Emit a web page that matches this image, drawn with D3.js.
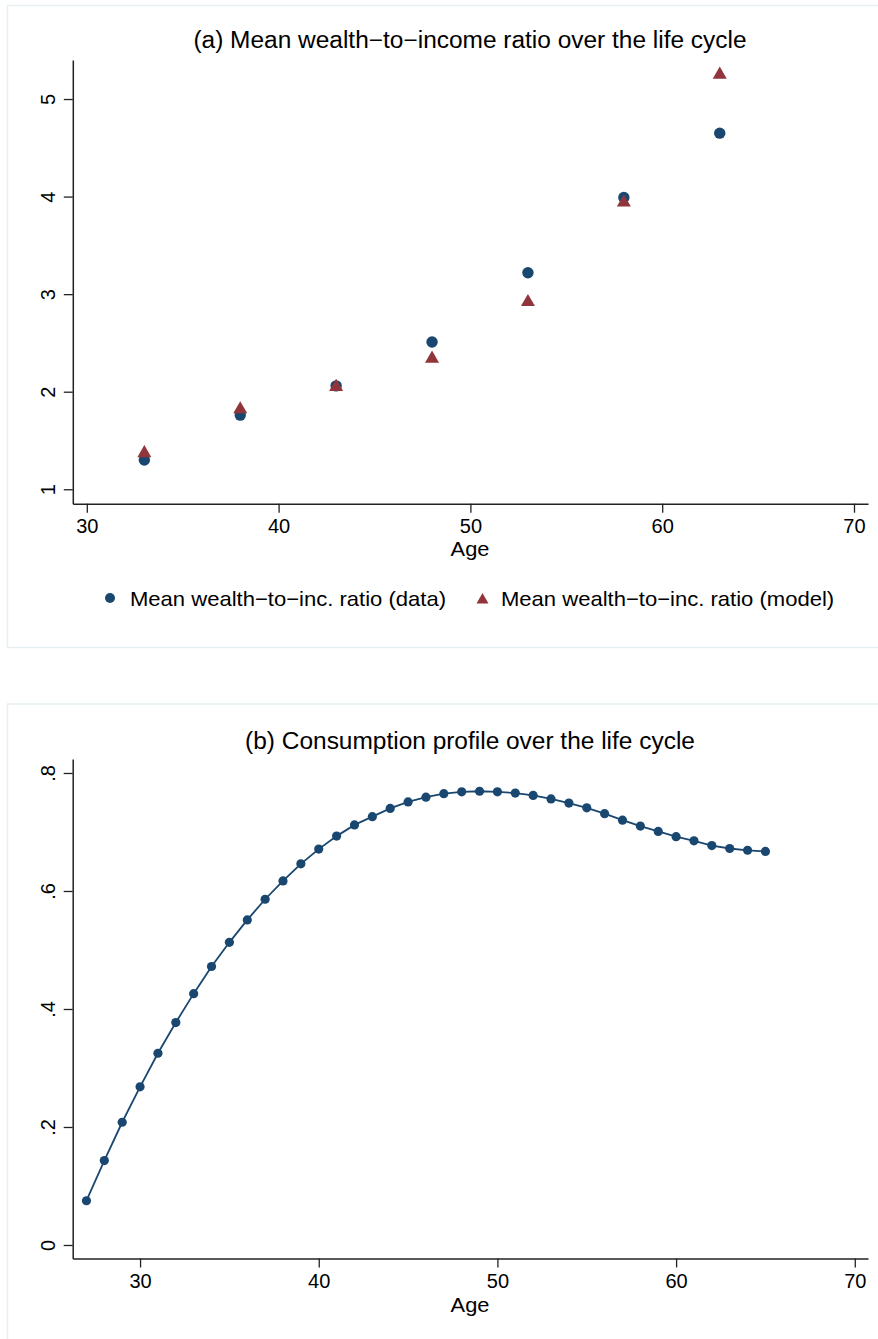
<!DOCTYPE html>
<html>
<head>
<meta charset="utf-8">
<script src="https://cdn.jsdelivr.net/npm/d3@7"></script>
<style>
  html, body { margin: 0; padding: 0; background: #fff; }
  svg { display: block; font-family: 'Liberation Sans', Arial, Helvetica, sans-serif; }
</style>
</head>
<body>
<svg id="chart" width="878" height="1339"></svg>
<script>
// panel (a) values
const wealthAges = [33, 38, 43, 48, 53, 58, 63]
const wealthData = [1.30, 1.76, 2.06, 2.51, 3.22, 3.99, 4.65]
const wealthModel = [1.39, 1.84, 2.07, 2.36, 2.94, 3.96, 5.27]
const wealthTicksX = [30, 40, 50, 60, 70]
const wealthTicksY = [1, 2, 3, 4, 5]
const legendLabels = ['Mean wealth\u2212to\u2212inc. ratio (data)', 'Mean wealth\u2212to\u2212inc. ratio (model)']

// panel (b) values
const consAges = [27, 28, 29, 30, 31, 32, 33, 34, 35, 36, 37, 38, 39, 40, 41, 42, 43, 44, 45, 46,
  47, 48, 49, 50, 51, 52, 53, 54, 55, 56, 57, 58, 59, 60, 61, 62, 63, 64, 65]
const consValues = [0.075, 0.143, 0.208, 0.268, 0.325, 0.377, 0.426, 0.472, 0.513, 0.551,
  0.586, 0.617, 0.646, 0.671, 0.693, 0.712, 0.726, 0.740, 0.751, 0.759,
  0.765, 0.768, 0.769, 0.768, 0.766, 0.762, 0.756, 0.749, 0.741, 0.731,
  0.720, 0.710, 0.701, 0.692, 0.685, 0.677, 0.672, 0.669, 0.667]
const consTicksX = [30, 40, 50, 60, 70]
const consTicksY = [0, 0.2, 0.4, 0.6, 0.8]

const navy = '#1a476f'
const maroon = '#90353b'
const axisColor = '#222'
const SX = 1.05      // text in the reference is drawn a touch wide

const svg = d3.select('#chart')

function stretchedText(g, x, y, str, size, anchor) {
  return g.append('text')
    .attr('transform', `translate(${x},${y}) scale(${SX},1)`)
    .attr('text-anchor', anchor || 'middle')
    .style('font-size', size + 'px')
    .style('fill', '#000')
    .text(str)
}

function panelFrame(y0, y1) {
  svg.append('rect')
    .attr('x', 7.5).attr('y', y0)
    .attr('width', 900).attr('height', y1 - y0)
    .style('fill', '#fff')
    .style('stroke', '#e6eff1')
    .style('stroke-width', 1.5)
}

function drawAxes(g, x, y, xTicks, yTicks, yFmt) {
  const [yBottom] = y.range()
  const [xLeft] = x.range()

  const xAxis = g.append('g')
    .attr('transform', `translate(0,${yBottom})`)
    .call(d3.axisBottom(x).tickValues(xTicks).tickSize(9).tickSizeOuter(0).tickFormat(d3.format('d')))
  xAxis.selectAll('text')
    .attr('y', 29).attr('dy', 0)

  const yAxis = g.append('g')
    .attr('transform', `translate(${xLeft},0)`)
    .call(d3.axisLeft(y).tickValues(yTicks).tickSize(9).tickSizeOuter(0).tickFormat(yFmt))
  yAxis.selectAll('text')
    .attr('x', 0).attr('y', 0).attr('dy', '0.36em')
    .attr('text-anchor', 'middle')
    .attr('transform', 'translate(-25,0) rotate(-90)')

  g.selectAll('.domain').style('stroke', axisColor).style('stroke-width', 1.5)
  g.selectAll('.tick line').style('stroke', axisColor).style('stroke-width', 1.3)
  g.selectAll('.tick text')
    .style('font-size', '20px')
    .style('font-family', "'Liberation Sans', Arial, sans-serif")
    .style('fill', '#000')
}

// ---------- panel (a) ----------
panelFrame(5.5, 647.5)
const gA = svg.append('g')
const xA = d3.scaleLinear().domain([29.27, 70.73]).range([72.8, 868])
const yA = d3.scaleLinear().domain([0.852, 5.40]).range([503.7, 60])

drawAxes(gA, xA, yA, wealthTicksX, wealthTicksY, d3.format('d'))
stretchedText(gA, 470, 48, '(a) Mean wealth\u2212to\u2212income ratio over the life cycle', 23.3)
stretchedText(gA, 470, 556, 'Age', 20.8)

const tri = d3.symbol(d3.symbolTriangle, 85)
const triSmall = d3.symbol(d3.symbolTriangle, 62)

gA.append('g').selectAll('circle')
  .data(wealthAges)
  .join('circle')
  .attr('cx', d => xA(d))
  .attr('cy', (d, i) => yA(wealthData[i]))
  .attr('r', 5.7)
  .style('fill', navy)

gA.append('g').selectAll('path')
  .data(wealthAges)
  .join('path')
  .attr('d', tri)
  .attr('transform', (d, i) => `translate(${xA(d)},${yA(wealthModel[i]) + 2})`)
  .style('fill', maroon)

// legend
const legend = gA.append('g')
legend.append('circle').attr('cx', 110).attr('cy', 598).attr('r', 5).style('fill', navy)
stretchedText(legend, 130, 605.5, legendLabels[0], 21, 'start')
legend.append('path').attr('d', triSmall)
  .attr('transform', 'translate(482.5,600)')
  .style('fill', maroon)
stretchedText(legend, 501, 605.5, legendLabels[1], 21, 'start')

// ---------- panel (b) ----------
panelFrame(704, 1350)
const gB = svg.append('g')
const xB = d3.scaleLinear().domain([26.23, 70.74]).range([72.7, 868])
const yB = d3.scaleLinear().domain([-0.0229, 0.8237]).range([1258.5, 759])

const fmtDec = v => v === 0 ? '0' : d3.format('.1f')(v).replace(/^0/, '')
drawAxes(gB, xB, yB, consTicksX, consTicksY, fmtDec)
stretchedText(gB, 470, 748.5, '(b) Consumption profile over the life cycle', 23.3)
stretchedText(gB, 470, 1312, 'Age', 20.8)

const line = d3.line()
  .x((d, i) => xB(consAges[i]))
  .y(d => yB(d))

gB.append('path')
  .datum(consValues)
  .attr('d', line)
  .style('fill', 'none')
  .style('stroke', navy)
  .style('stroke-width', 1.8)

gB.append('g').selectAll('circle')
  .data(consValues)
  .join('circle')
  .attr('cx', (d, i) => xB(consAges[i]))
  .attr('cy', d => yB(d))
  .attr('r', 4.6)
  .style('fill', navy)
</script>
</body>
</html>
